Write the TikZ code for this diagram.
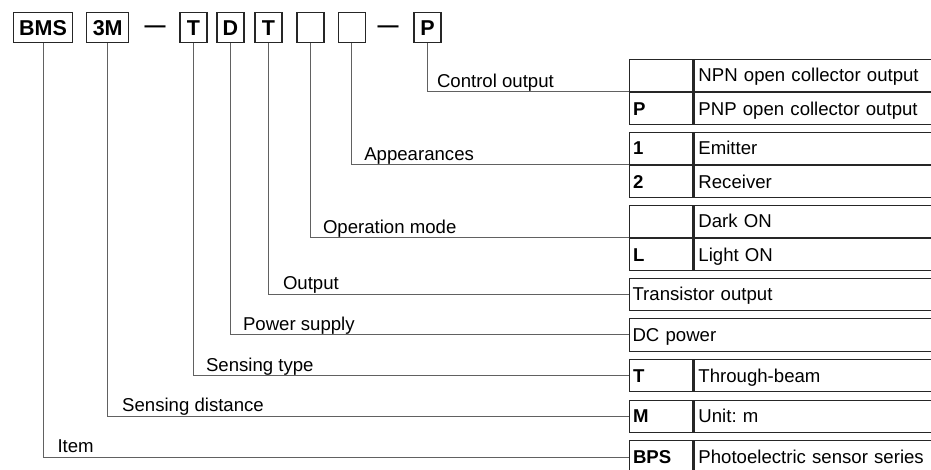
\documentclass[tikz,border=0pt]{standalone}
\usepackage{fontspec}
\setmainfont{Liberation Sans}
\usetikzlibrary{positioning}
\frenchspacing

\tikzset{
  keybox/.style={draw=black!85, line width=1.3pt, font=\bfseries\fontsize{21.5}{24}\selectfont,
    minimum width=27pt, minimum height=30pt, inner sep=0pt},
  sepdash/.style={font=\bfseries\fontsize{21}{24}\selectfont, inner sep=0pt},
  codecell/.style={draw=black!85, line width=1.1pt, anchor=north west, font=\bfseries\fontsize{18.6}{22}\selectfont,
    minimum width=63.8pt, minimum height=32.3pt, inner xsep=4pt, inner ysep=0pt,
    text width=55.8pt, align=left, text height=13.3pt, text depth=0pt},
  desccell/.style={codecell, font=\fontsize{18.6}{22}\selectfont, minimum width=300pt, text width=291pt},
  widecell/.style={desccell, minimum width=364pt, text width=357pt, inner xsep=3.5pt},
  lead/.style={draw=black!62, line width=1pt},
  lbl/.style={font=\fontsize{18.6}{22}\selectfont, anchor=base west, inner sep=0pt, xshift=12pt, yshift=4.5pt}
}

\begin{document}
\begin{tikzpicture}[x=1pt,y=-1pt]
  \useasboundingbox (0,0) rectangle (931,469);

  %model code
  \node[keybox, minimum width=59.4pt] (bms) at (43,27.7) {BMS};
  \node[keybox, minimum width=42pt] (dist) at (107.7,27.7) {3M};
  \node[sepdash] (dashA) at (155,29.5) {—};
  \node[keybox] (typ) at (193.5,27.7) {T};
  \node[keybox] (pow) at (230.5,27.7) {D};
  \node[keybox] (outp) at (268.5,27.7) {T};
  \node[keybox] (mode) at (310.5,27.7) {};
  \node[keybox] (app) at (351.8,27.7) {};
  \node[sepdash] (dashB) at (388,29.5) {—};
  \node[keybox] (ctrl) at (427.5,27.7) {P};

  %tables
  \node[codecell] (npnK) at (628.5,58.5) {};
  \node[desccell, right=0pt of npnK] (npnD) {NPN open collector output};
  \node[codecell, below=0pt of npnK] (pnpK) {P};
  \node[desccell, right=0pt of pnpK] (pnpD) {PNP open collector output};

  \node[codecell] (emK) at (628.5,131.5) {1};
  \node[desccell, right=0pt of emK] (emD) {Emitter};
  \node[codecell, below=0pt of emK] (recK) {2};
  \node[desccell, right=0pt of recK] (recD) {Receiver};

  \node[codecell] (darkK) at (628.5,204.5) {};
  \node[desccell, right=0pt of darkK] (darkD) {Dark ON};
  \node[codecell, below=0pt of darkK] (lightK) {L};
  \node[desccell, right=0pt of lightK] (lightD) {Light ON};

  \node[widecell] (trans) at (628.5,277.5) {Transistor output};
  \node[widecell] (dcp) at (628.5,318.2) {DC power};
  \node[codecell] (thrK) at (628.5,358.9) {T};
  \node[desccell, right=0pt of thrK] (thrD) {Through-beam};
  \node[codecell] (unitK) at (628.5,399.6) {M};
  \node[desccell, right=0pt of unitK] (unitD) {Unit: m};
  \node[codecell] (bpsK) at (628.5,440.3) {BPS};
  \node[desccell, right=0pt of bpsK] (bpsD) {Photoelectric sensor series};

  %leaders
  \draw[lead] (ctrl.south) |- node[lbl, pos=0.5, xshift=-3pt] {Control output} (npnK.south west);
  \draw[lead] (app.south) |- node[lbl, pos=0.5] {Appearances} (emK.south west);
  \draw[lead] (mode.south) |- node[lbl, pos=0.5] {Operation mode} (darkK.south west);
  \draw[lead] (outp.south) |- node[lbl, pos=0.5, xshift=2pt] {Output} (trans.west);
  \draw[lead] (pow.south) |- node[lbl, pos=0.5] {Power supply} (dcp.west);
  \draw[lead] (typ.south) |- node[lbl, pos=0.5] {Sensing type} (thrK.west);
  \draw[lead] (dist.south) |- node[lbl, pos=0.5, xshift=2pt] {Sensing distance} (unitK.west);
  \draw[lead] (bms.south) |- node[lbl, pos=0.5, xshift=2pt] {Item} (bpsK.west);
\end{tikzpicture}
\end{document}
